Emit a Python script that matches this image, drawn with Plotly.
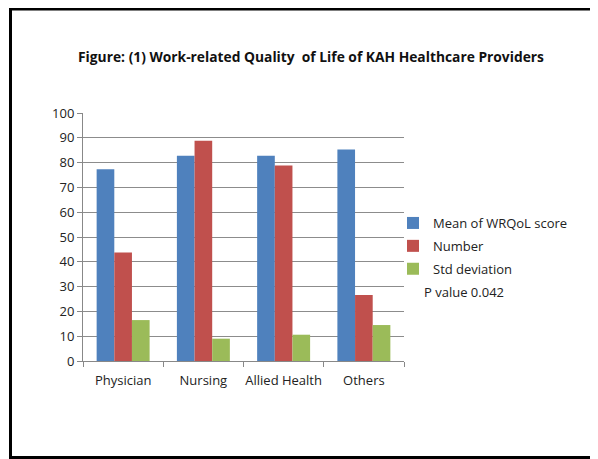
import plotly.graph_objects as go

categories = ["Physician", "Nursing", "Allied Health", "Others"]
mean_wrqol = [77.3, 82.8, 82.8, 85.3]
number = [43.7, 88.8, 78.8, 26.6]
std_dev = [16.5, 9.0, 10.6, 14.5]
y_ticks = list(range(0, 101, 10))

OFF = 8  # page body margin
W, H = 598 - OFF, 459 - OFF
L, R, T, B = 83 - OFF, 404 - OFF, 113 - OFF, 361 - OFF
FONT = "Open Sans, Liberation Sans, sans-serif"

fig = go.Figure()
series = [("Mean of WRQoL score", mean_wrqol, "#4F81BD"),
          ("Number", number, "#C0504D"),
          ("Std deviation", std_dev, "#9BBB59")]
for i, (name, vals, col) in enumerate(series):
    fig.add_trace(go.Bar(x=categories, y=vals, name=name, marker_color=col,
                         marker_line_width=0, legendgroup=f"g{i}"))

def px_x(p):
    return (p - OFF - L) / (R - L)

def px_y(p):
    return (B - (p - OFF)) / (B - T)

fig.add_shape(type="rect", xref="paper", yref="paper",
              x0=px_x(10.5), x1=px_x(606), y0=px_y(457.5), y1=px_y(9),
              line=dict(color="black", width=3), fillcolor="rgba(0,0,0,0)")

fig.add_annotation(text="P value 0.042", xref="paper", yref="paper",
                   x=px_x(422), y=px_y(292), xanchor="left", yanchor="middle",
                   showarrow=False, font=dict(size=13, color="#222", family=FONT))

fig.update_layout(
    width=W, height=H,
    margin=dict(l=L, r=W - R, t=T, b=H - B),
    paper_bgcolor="white", plot_bgcolor="white",
    barmode="group", bargap=0.34, bargroupgap=0,
    font=dict(family=FONT, size=13, color="#222"),
    title=dict(text="<b>Figure: (1) Work-related Quality  of Life of KAH Healthcare Providers</b>",
               x=(311 - OFF) / W, xanchor="center", y=1 - (57 - OFF) / H, yanchor="middle",
               font=dict(size=13.8, family=FONT, color="#111")),
    legend=dict(x=px_x(393), y=px_y(208), xanchor="left", yanchor="top",
                font=dict(size=13, family=FONT), tracegroupgap=3,
                bgcolor="rgba(0,0,0,0)"),
    showlegend=True,
)
fig.update_xaxes(showline=True, linecolor="#888", linewidth=1,
                 ticks="outside", tickson="boundaries", ticklen=5, tickcolor="#888",
                 tickfont=dict(size=13), tickangle=0, ticklabelstandoff=7, showgrid=False)
fig.update_yaxes(range=[0, 100], tickvals=y_ticks, showline=True, linecolor="#888",
                 linewidth=1, ticks="outside", ticklen=5, tickcolor="#888",
                 showgrid=True, gridcolor="#8c8c8c", gridwidth=1,
                 tickfont=dict(size=13), zeroline=False)

fig.write_html("out.html")
